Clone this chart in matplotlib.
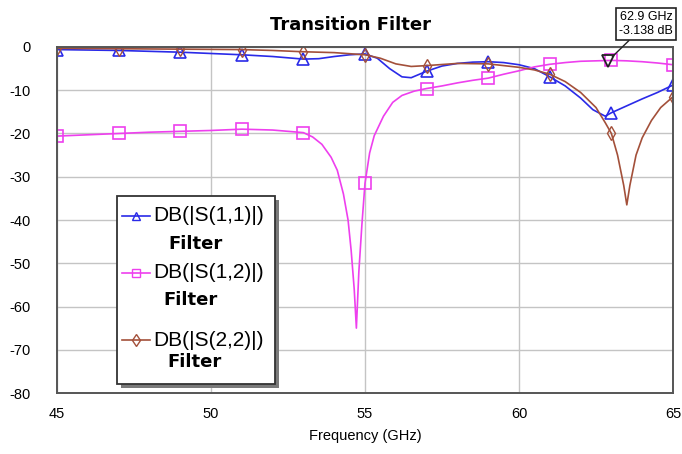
import matplotlib.pyplot as plt
from matplotlib.lines import Line2D
from matplotlib.patches import Rectangle

plt.rcParams['axes.unicode_minus'] = False

# traces (GHz, dB)
s11_f = [45, 46, 47, 48, 49, 50, 51, 52, 53, 53.5, 54, 54.5, 55, 55.4, 55.8, 56.2, 56.5,
         57, 57.5, 58, 58.5, 59, 59.5, 60, 60.5, 61, 61.5, 62, 62.4, 62.8, 63, 63.5, 64, 64.5, 65]
s11_db = [-0.6, -0.7, -0.8, -1.0, -1.2, -1.5, -1.8, -2.2, -2.8, -2.7, -2.2, -1.8, -1.6, -2.6, -5.0, -6.9, -7.1,
          -5.6, -4.4, -3.8, -3.5, -3.4, -3.6, -4.1, -5.0, -6.9, -9.0, -11.8, -14.5, -16.0, -15.2, -13.6, -12.0, -10.5, -8.8]

s12_f = [45, 46, 47, 48, 49, 50, 51, 52, 53, 53.3, 53.6, 53.9, 54.1, 54.3, 54.45, 54.55, 54.65, 54.72,
         54.8, 54.9, 55, 55.15, 55.3, 55.6, 55.9, 56.2, 56.6, 57, 57.5, 58, 58.5, 59, 59.5, 60, 60.5,
         61, 61.5, 62, 62.5, 63, 63.5, 64, 64.5, 65]
s12_db = [-20.6, -20.3, -20.0, -19.7, -19.5, -19.3, -19.0, -19.2, -19.8, -20.8, -22.5, -25.5, -28.5, -34.0, -40.0, -47.0, -56.0, -65.0,
          -52.0, -41.0, -31.5, -24.5, -20.5, -16.0, -12.8, -11.2, -10.2, -9.6, -9.0, -8.3, -7.7, -7.2, -6.3, -5.5, -4.6,
          -4.0, -3.6, -3.3, -3.2, -3.1, -3.2, -3.4, -3.7, -4.1]

s22_f = [45, 47, 49, 51, 52, 53, 54, 55, 55.5, 56, 56.5, 57, 58, 59, 60, 60.5, 61, 61.5, 62, 62.5,
         62.8, 63, 63.2, 63.4, 63.5, 63.6, 63.8, 64, 64.3, 64.6, 65]
s22_db = [-0.3, -0.4, -0.5, -0.6, -0.8, -1.1, -1.3, -1.8, -2.6, -3.9, -4.5, -4.3, -3.8, -3.9, -4.7, -5.3, -6.3, -8.0, -10.5, -14.0,
          -17.5, -20.0, -25.0, -32.0, -36.5, -32.0, -25.0, -21.0, -17.0, -14.0, -11.5]

# marker positions (every 2 GHz)
mk_f = [45, 47, 49, 51, 53, 55, 57, 59, 61, 63, 65]
s11_mk = [-0.6, -0.8, -1.2, -1.8, -2.8, -1.6, -5.6, -3.4, -6.9, -15.2, -8.8]
s12_mk = [-20.6, -20.0, -19.5, -19.0, -19.8, -31.5, -9.6, -7.2, -4.0, -3.1, -4.1]
s22_mk = [-0.3, -0.4, -0.5, -0.6, -1.1, -1.8, -4.3, -3.9, -6.3, -20.0, -11.5]

marker_f = 62.9
marker_db = -3.138

blue = '#2a2ae8'
pink = '#ee3fee'
brown = '#a3503a'

W, H = 682, 454


def fx(px):
    return px / W


def fy(py):
    return 1 - py / H


fig = plt.figure(figsize=(6.82, 4.54), dpi=100)
ax = fig.add_axes([fx(57), fy(393), (673 - 57) / W, (393 - 47) / H])

ax.plot(s11_f, s11_db, color=blue, lw=1.2)
ax.plot(mk_f, s11_mk, ls='none', marker='^', ms=8, mfc='none', mec=blue, mew=1.2)
ax.plot(s12_f, s12_db, color=pink, lw=1.2)
ax.plot(mk_f, s12_mk, ls='none', marker='s', ms=8, mfc='none', mec=pink, mew=1.2)
ax.plot(s22_f, s22_db, color=brown, lw=1.2)
ax.plot(mk_f, s22_mk, ls='none', marker='d', ms=7, mfc='none', mec=brown, mew=1.0)

ax.set_xlim(45, 65)
ax.set_ylim(-80, 0)
ax.set_xticks(range(45, 66, 5))
ax.set_yticks(range(-80, 1, 10))
ax.grid(True, color='#c4c4c4', lw=1)
ax.set_axisbelow(True)
ax.tick_params(length=0, labelsize=10.5)
ax.tick_params(axis='y', pad=19)
ax.tick_params(axis='x', pad=10)
for lab in ax.get_xticklabels() + ax.get_yticklabels():
    lab.set_fontfamily('Liberation Sans')
for sp in ax.spines.values():
    sp.set_color('#555555')
    sp.set_linewidth(1.4)
ax.set_xlabel('Frequency (GHz)', fontsize=10.5, family='Liberation Sans', labelpad=6)

fig.text(fx(350), fy(25), 'Transition Filter', ha='center', va='center',
         fontsize=13, fontweight='bold')

# marker readout
ax.plot([marker_f], [marker_db], ls='none', marker='v', ms=8, mfc='none', mec='#222222', mew=1.3)
ax.annotate(f'{marker_f} GHz\n{marker_db} dB', xy=(marker_f, marker_db),
            xytext=(646, H - 24), textcoords='figure pixels',
            ha='center', va='center', fontsize=9, family='Liberation Sans',
            bbox=dict(boxstyle='square,pad=0.25', fc='white', ec='#222222', lw=1.2),
            arrowprops=dict(arrowstyle='-', color='#222222', lw=1.0, shrinkA=0, shrinkB=4))

# legend box drawn by hand
fig.patches.append(Rectangle((fx(121), fy(388)), (275 - 117) / W, (384 - 196) / H,
                             transform=fig.transFigure, fc='#7a7a7a', ec='none', zorder=5))
fig.patches.append(Rectangle((fx(117), fy(384)), (275 - 117) / W, (384 - 196) / H,
                             transform=fig.transFigure, fc='white', ec='#333333', lw=1.3, zorder=6))
entries = [('DB(|S(1,1)|)', blue, '^', 216, 244, 168),
           ('DB(|S(1,2)|)', pink, 's', 273, 300, 163),
           ('DB(|S(2,2)|)', brown, 'd', 340, 362, 167)]
for name, col, mk, py, fpy, fpx in entries:
    fig.add_artist(Line2D([fx(122), fx(150)], [fy(py), fy(py)], transform=fig.transFigure,
                          color=col, lw=1.2, zorder=7))
    fig.add_artist(Line2D([fx(136)], [fy(py)], transform=fig.transFigure, ls='none',
                          marker=mk, ms=6, mfc='none', mec=col, mew=1.0, zorder=7))
    fig.text(fx(153), fy(py), name, ha='left', va='center', fontsize=15,
             family='Liberation Sans', zorder=8)
    fig.text(fx(fpx), fy(fpy), 'Filter', ha='left', va='center', fontsize=13,
             fontweight='bold', zorder=8)

fig.savefig('out.png', dpi=100)
